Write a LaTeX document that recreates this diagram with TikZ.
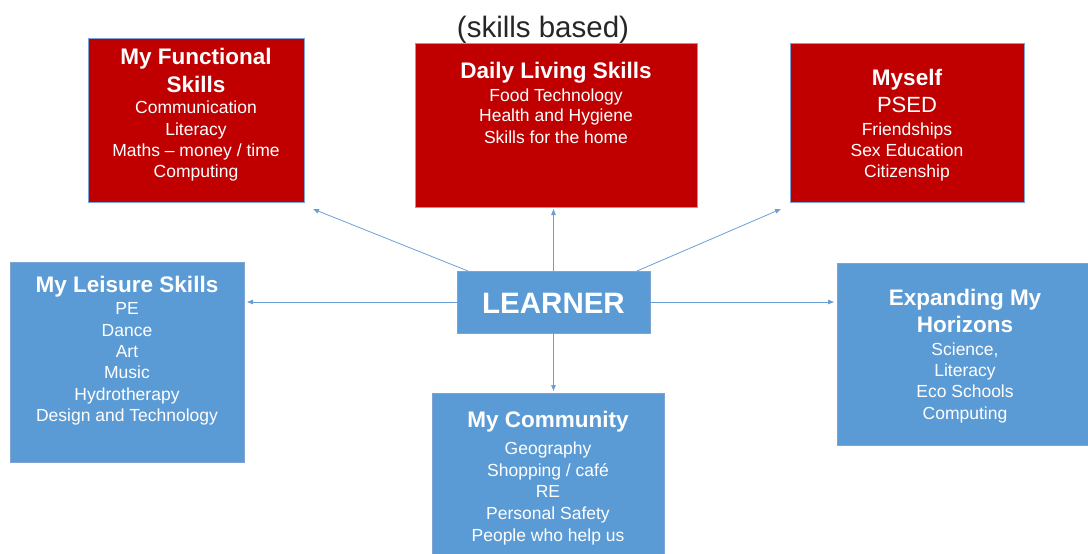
\documentclass[tikz,border=0pt]{standalone}
\usepackage{fontspec}
\setmainfont{Liberation Sans}
\usetikzlibrary{arrows.meta}
\definecolor{boxred}{HTML}{C00000}
\definecolor{boxblue}{HTML}{5B9BD5}
\definecolor{boxline}{HTML}{7FA3D3}
\definecolor{linkblue}{HTML}{6A9FD6}
\definecolor{headgray}{HTML}{262626}

\begin{document}
\begin{tikzpicture}[x=1pt,y=-1pt,
  panel/.style={rectangle, draw=boxline, line width=0.8pt, inner sep=0pt, outer sep=0pt},
  redpanel/.style={panel, fill=boxred},
  bluepanel/.style={panel, fill=boxblue},
  txt/.style={text=white, inner sep=0pt, text depth=0pt},
  head/.style={txt, text height=16pt, font=\fontsize{22.5}{27}\selectfont\bfseries},
  item/.style={txt, text height=12.5pt, font=\fontsize{17.5}{21}\selectfont},
  bigitem/.style={txt, text height=15.8pt, font=\fontsize{22}{26}\selectfont},
  link/.style={draw=linkblue, line width=0.8pt, -{Triangle[length=6pt,width=4.5pt]}},
]
\useasboundingbox (0,0) rectangle (1088,554);
\clip (0,0) rectangle (1088,554);

% heading
\node[inner sep=0pt, text depth=0pt, text height=21pt, text=headgray,
      font=\fontsize{29.5}{35}\selectfont] (title) at (543,26.5) {(skills based)};

% panels
\node[redpanel, minimum width=216pt, minimum height=164pt] (func) at (196,120) {};
\node[redpanel, minimum width=282pt, minimum height=164pt] (daily) at (556,125) {};
\node[redpanel, minimum width=234pt, minimum height=159pt] (myself) at (907,122.5) {};
\node[bluepanel, minimum width=234pt, minimum height=200pt] (leisure) at (127,362) {};
\node[bluepanel, minimum width=256pt, minimum height=182pt] (expand) at (965,354) {};
\node[bluepanel, minimum width=232pt, minimum height=169pt] (community) at (548,477.5) {};
\node[bluepanel, minimum width=193pt, minimum height=62pt] (learner) at (553.5,302) {};

% My Functional Skills
\node[head] (func1) at (196,56) {My Functional};
\node[head] (func2) at (196,84.5) {Skills};
\node[item] (func3) at (196,107.5) {Communication};
\node[item] (func4) at (196,129.5) {Literacy};
\node[item] (func5) at (196,150) {Maths – money / time};
\node[item] (func6) at (196,171.5) {Computing};

% Daily Living Skills
\node[head] (daily1) at (556,70) {Daily Living Skills};
\node[item] (daily2) at (556,95) {Food Technology};
\node[item] (daily3) at (556,115.5) {Health and Hygiene};
\node[item] (daily4) at (556,137) {Skills for the home};

% Myself
\node[head] (myself1) at (907,77) {Myself};
\node[bigitem] (myself2) at (907,105) {PSED};
\node[item] (myself3) at (907,129.5) {Friendships};
\node[item] (myself4) at (907,150) {Sex Education};
\node[item] (myself5) at (907,171.5) {Citizenship};

% My Leisure Skills
\node[head] (leisure1) at (127,284.5) {My Leisure Skills};
\node[item] (leisure2) at (127,308.5) {PE};
\node[item] (leisure3) at (127,330) {Dance};
\node[item] (leisure4) at (127,351.5) {Art};
\node[item] (leisure5) at (127,372.5) {Music};
\node[item] (leisure6) at (127,394) {Hydrotherapy};
\node[item] (leisure7) at (127,415) {Design and Technology};

% LEARNER
\node[txt, text height=21pt, font=\fontsize{29.5}{35}\selectfont\bfseries] (learnertext) at (553.5,302.5) {LEARNER};

% Expanding My Horizons
\node[head] (expand1) at (965,297) {Expanding My};
\node[head] (expand2) at (965,324.5) {Horizons};
\node[item] (expand3) at (965,349.5) {Science,};
\node[item] (expand4) at (965,370) {Literacy};
\node[item] (expand5) at (965,391.5) {Eco Schools};
\node[item] (expand6) at (965,413) {Computing};

% My Community
\node[head] (comm1) at (548,419.5) {My Community};
\node[item] (comm2) at (548,448.5) {Geography};
\node[item] (comm3) at (548,470.5) {Shopping / café};
\node[item] (comm4) at (548,491.5) {RE};
\node[item] (comm5) at (548,513.5) {Personal Safety};
\node[item] (comm6) at (548,535) {People who help us};

% connectors from the learner
\draw[link] ([xshift=11pt]learner.north west) -- ([xshift=9pt,yshift=-7pt]func.south east);
\draw[link, shorten >=2pt] (learner.north) -- (learner.north |- daily.south);
\draw[link] ([xshift=-13pt]learner.north east) -- ([xshift=-9pt,yshift=-7pt]myself.south west);
\draw[link, shorten >=3pt] (learner.west) -- (learner.west -| leisure.east);
\draw[link, shorten >=3pt] (learner.east) -- (learner.east -| expand.west);
\draw[link, shorten >=2pt] (learner.south) -- (learner.south |- community.north);
\end{tikzpicture}
\end{document}
